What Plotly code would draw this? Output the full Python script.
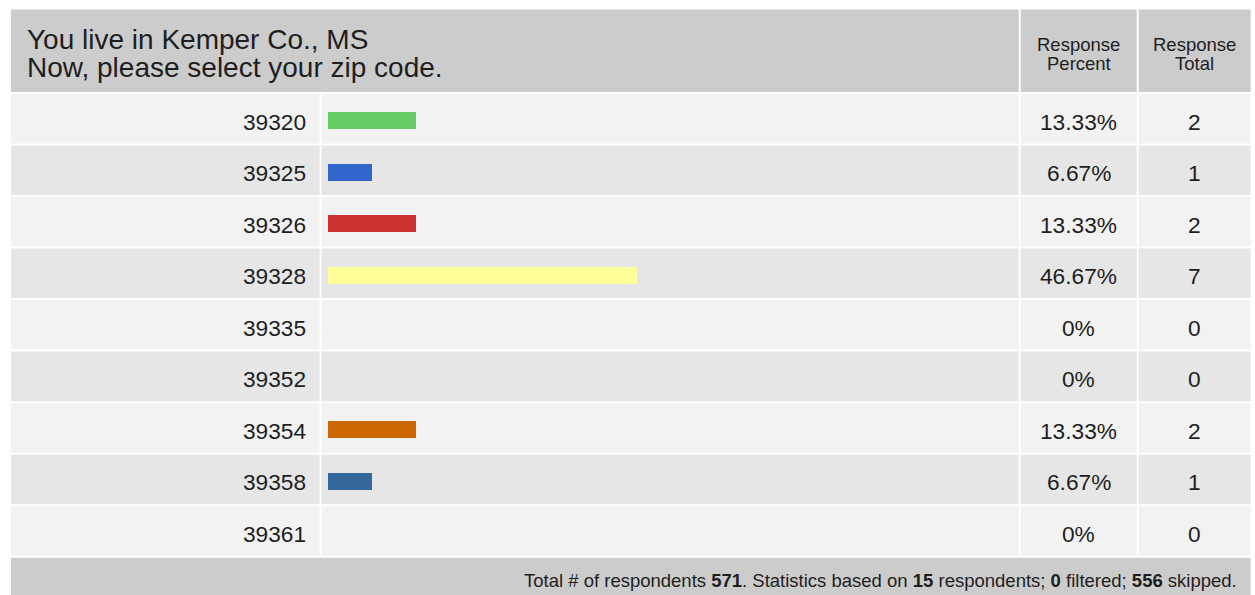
import plotly.graph_objects as go

# ---- data ----
zip_codes = ["39320", "39325", "39326", "39328", "39335", "39352", "39354", "39358", "39361"]
response_percent = [13.33, 6.67, 13.33, 46.67, 0, 0, 13.33, 6.67, 0]
percent_labels = ["13.33%", "6.67%", "13.33%", "46.67%", "0%", "0%", "13.33%", "6.67%", "0%"]
response_total = [2, 1, 2, 7, 0, 0, 2, 1, 0]
bar_colors = ["#66cc66", "#3366cc", "#cc3333", "#ffff99", "#cc6600", "#cc6600", "#cc6600", "#336699", "#336699"]
title_lines = ["You live in Kemper Co., MS", "Now, please select your zip code."]
col_headers = [["Response", "Percent"], ["Response", "Total"]]
footer_text = ("Total # of respondents <b>571</b>. Statistics based on <b>15</b> respondents; "
               "<b>0</b> filtered; <b>556</b> skipped.")

W, H = 1255, 595
FONT = "Liberation Sans, Arial, sans-serif"
TXT = "#1e1e1e"


def px(x):
    return x / W


def py(y):
    return 1 - y / H


# geometry (pixels)
tbl_l, tbl_r = 11, 1250.7
colA = (11, 319.5)
colB = (321.5, 1018.7)
colC = (1020.7, 1136.7)
colD = (1138.7, 1250.7)
hdr = (9.5, 92)
rows_top, rows_bot = 94, 557.7
pitch = (rows_bot - rows_top) / len(zip_codes)
gap = 2.0
bar_x0 = 328
px_per_pct = 6.62

fig = go.Figure()
fig.add_trace(go.Bar(
    x=response_percent,
    y=list(range(len(zip_codes))),
    orientation="h",
    marker=dict(color=bar_colors, line=dict(width=0)),
    width=17 / pitch,
    offset=-8.5 / pitch + 0.02,
    hoverinfo="skip",
    showlegend=False,
))

shapes = []
# header cells
for (x0, x1) in [(colA[0], colB[1]), colC, colD]:
    shapes.append(dict(type="rect", xref="paper", yref="paper",
                       x0=px(x0), x1=px(x1), y0=py(hdr[1]), y1=py(hdr[0]),
                       fillcolor="#cccccc", line=dict(width=0), layer="below"))
# body cells
for i in range(len(zip_codes)):
    fill = "#f2f2f2" if i % 2 == 0 else "#e6e6e6"
    for (x0, x1) in [colA, colB, colC, colD]:
        shapes.append(dict(type="rect", xref="paper", yref="y",
                           x0=px(x0), x1=px(x1), y0=i - 0.5, y1=i + 0.5 - gap / pitch,
                           fillcolor=fill, line=dict(width=0), layer="below"))
# footer
shapes.append(dict(type="rect", xref="paper", yref="paper",
                   x0=px(tbl_l), x1=px(tbl_r), y0=0, y1=py(rows_bot),
                   fillcolor="#cccccc", line=dict(width=0), layer="below"))

ann = []
# title
for k, line in enumerate(title_lines):
    ann.append(dict(text=line, xref="paper", yref="paper", x=px(25), y=py(57 + 28 * k),
                    xanchor="left", yanchor="bottom", showarrow=False,
                    font=dict(family=FONT, size=28, color=TXT)))
# column headers
for (c0, c1), lines in zip([colC, colD], col_headers):
    for k, line in enumerate(lines):
        ann.append(dict(text=line, xref="paper", yref="paper", x=px((c0 + c1) / 2),
                        y=py(57 + 18.5 * k), xanchor="center", yanchor="bottom",
                        showarrow=False, font=dict(family=FONT, size=18.5, color=TXT)))
# rows
for i, (z, pl, t) in enumerate(zip(zip_codes, percent_labels, response_total)):
    common = dict(xref="paper", yref="y", y=i + 0.04, yanchor="middle", showarrow=False,
                  font=dict(family=FONT, size=22.7, color=TXT))
    ann.append(dict(text=z, x=px(308), xanchor="right", **common))
    ann.append(dict(text=pl, x=px((colC[0] + colC[1]) / 2), xanchor="center", **common))
    ann.append(dict(text=str(t), x=px((colD[0] + colD[1]) / 2), xanchor="center", **common))
# footer
ann.append(dict(text=footer_text, xref="paper", yref="paper", x=px(1239), y=py(580),
                xanchor="right", yanchor="middle", showarrow=False,
                font=dict(family=FONT, size=18.5, color=TXT)))

fig.update_layout(
    width=W, height=H,
    margin=dict(l=0, r=0, t=0, b=0),
    paper_bgcolor="white", plot_bgcolor="rgba(0,0,0,0)",
    xaxis=dict(domain=[px(bar_x0), px(colB[1])],
               range=[0, (colB[1] - bar_x0) / px_per_pct],
               visible=False, fixedrange=True),
    yaxis=dict(domain=[py(rows_bot), py(rows_top)],
               range=[len(zip_codes) - 0.5, -0.5],
               visible=False, fixedrange=True),
    shapes=shapes,
    annotations=ann,
    bargap=0,
)

fig.write_html("out.html", config={"displayModeBar": False},
               post_script="document.body.style.margin='0px';document.body.style.overflow='hidden';")
